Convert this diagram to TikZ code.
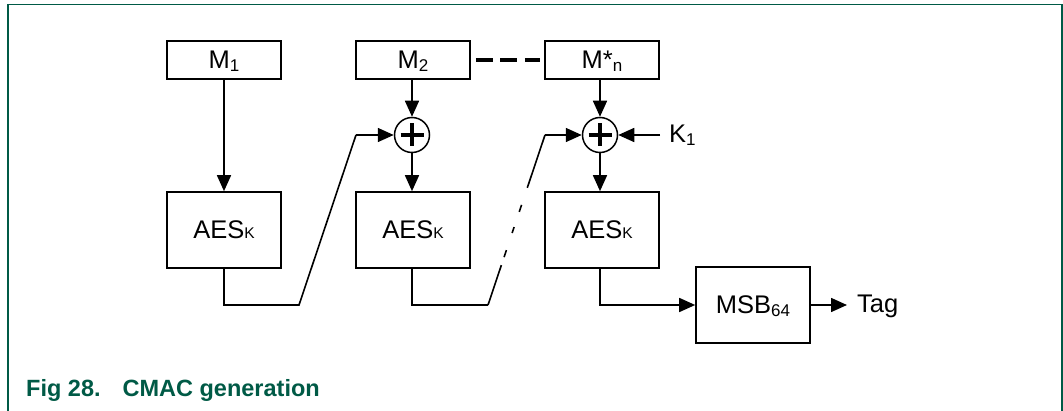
\documentclass[tikz,border=0pt]{standalone}
\usepackage{fontspec}
\setmainfont{Liberation Sans}
\usetikzlibrary{arrows.meta,calc}
\definecolor{nxpgreen}{RGB}{0,90,70}
\newcommand\lsub[1]{\raisebox{-3pt}{\fontsize{17}{20}\selectfont #1}}
\newcommand\ksub{{\fontsize{15.5}{18}\selectfont K}}
\begin{document}
\begin{tikzpicture}[x=1pt,y=-1pt,
  blk/.style={draw, line width=1.6pt, minimum width=114pt, minimum height=38pt, inner sep=0pt,
    text height=18pt, text depth=0pt, font=\fontsize{25.5}{30}\selectfont},
  aes/.style={blk, minimum height=76pt},
  xor/.style={draw, circle, line width=1.5pt, minimum size=35pt, inner sep=0pt},
  conn/.style={line width=1.6pt},
  arr/.style={conn, -{Triangle[length=16pt,width=14pt]}},
  lbl/.style={font=\fontsize{25.5}{30}\selectfont, inner sep=0pt, anchor=base west},
  plus/.style={line width=4.5pt}
]
\fill[white] (0,0) rectangle (1063,411);
\useasboundingbox (0,0) rectangle (1063,411);
\draw[nxpgreen, line width=1.8pt] (8,413) -- (8,4.5) -- (1062,4.5) -- (1062,413);

% input blocks
\node[blk] (m1) at (224,60) {M\lsub{1}};
\node[blk] (m2) at (413,60) {M\lsub{2}};
\node[blk] (mn) at (602,60) {M*\lsub{n}};
\draw[line width=3.2pt, dash pattern=on 17pt off 7.5pt] ($(m2.east)+(5,0)$) coordinate (d1) -- ($(mn.west)+(-4,0)$) coordinate (d2);

% xor nodes
\node[xor] (x2) at (412,135) {};
\node[xor] (x3) at (600,135) {};
\foreach \x in {x2,x3}{
  \draw[plus] ($(\x.center)+(-11.5,0)$) -- ($(\x.center)+(11.5,0)$);
  \draw[plus] ($(\x.center)+(0,-11.5)$) -- ($(\x.center)+(0,11.5)$);
}

% AES blocks
\node[aes] (a1) at (224,230) {AES\ksub};
\node[aes] (a2) at (413,230) {AES\ksub};
\node[aes] (a3) at (602,230) {AES\ksub};
\node[aes] (msb) at (753,305) {MSB\lsub{64}};

% labels
\node[lbl] (k1) at (669,143) {K\lsub{1}};
\node[lbl] (tag) at (857,313) {Tag};

% connectors
\draw[arr] (m1) -- (a1);
\draw[arr] (m2.south -| x2) -- (x2);
\draw[arr] (x2) -- (a2.north -| x2);
\draw[arr] (mn.south -| x3) -- (x3);
\draw[arr] (x3) -- (a3.north -| x3);
\coordinate (k1s) at ($(k1.west |- x3)+(-9,0)$);
\draw[arr] (k1s) -- (x3);

\coordinate (c1a) at (299,305);
\coordinate (c1b) at (356,135);
\draw[conn] (a1.south) |- (c1a) -- (c1b);
\draw[arr] (c1b) -- (x2);

\coordinate (c2a) at (488,305);
\coordinate (c2b) at (545,135);
\draw[conn] (a2.south -| x2) |- (c2a);
\draw[conn, dash pattern=on 42pt off 8.5pt on 7.4pt off 18pt on 6.3pt off 16pt on 7.4pt off 18pt on 100pt off 1pt] (c2a) -- (c2b);
\draw[arr] (c2b) -- (x3);

\draw[arr] (a3.south -| x3) |- (msb.west);
\coordinate (te) at ($(tag.base west)+(-10,-8)$);
\draw[arr] (msb.east) -- (te);

% caption
\node[anchor=base west, inner sep=0pt, text=nxpgreen, font=\fontsize{23.5}{28}\selectfont\bfseries] (cap) at (26,397) {Fig 28.\hspace{22pt}CMAC generation};
\end{tikzpicture}
\end{document}
